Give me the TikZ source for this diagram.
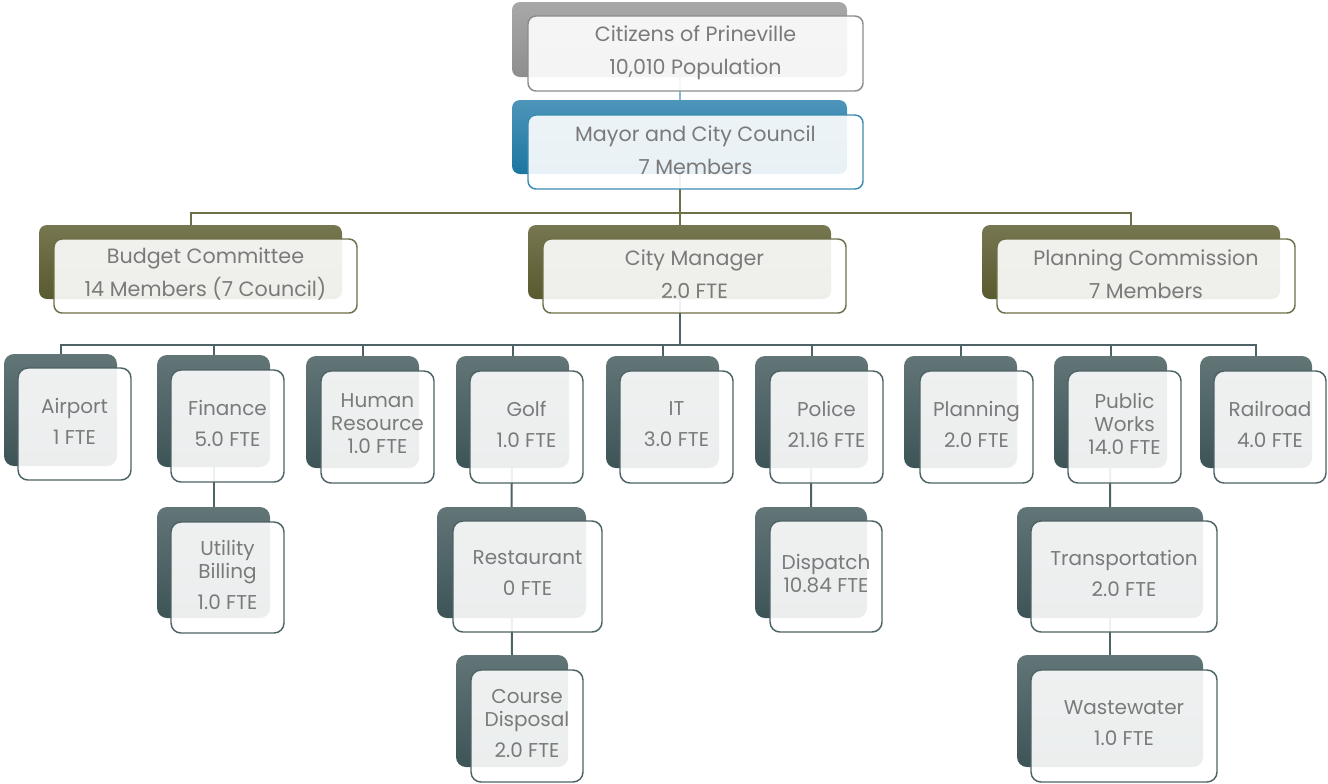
\documentclass[tikz,border=0pt]{standalone}
\usepackage{fontspec}
\newfontfamily\orgfont{Poppins}
\usetikzlibrary{backgrounds}
\definecolor{txtgray}{HTML}{7A7A7A}
\definecolor{citA}{HTML}{A8A8A8}
\definecolor{citB}{HTML}{8E8E8E}
\definecolor{citE}{HTML}{8C8C8C}
\definecolor{mayA}{HTML}{4E95BA}
\definecolor{mayB}{HTML}{1A76A0}
\definecolor{mayE}{HTML}{3A8CB2}
\definecolor{olA}{HTML}{767650}
\definecolor{olB}{HTML}{5A5A30}
\definecolor{olE}{HTML}{6E6E48}
\definecolor{slA}{HTML}{627577}
\definecolor{slB}{HTML}{3D5457}
\definecolor{slE}{HTML}{4E6366}
\definecolor{lnblue}{HTML}{8DB9D0}
\tikzset{
  backbox/.style={anchor=north west,inner sep=0pt,outer sep=0pt},
  frontbox/.style={anchor=north west,inner sep=0pt,outer sep=0pt,fill=white,fill opacity=0.9,line width=1.1pt},
  boxtext/.style={align=center,text=txtgray,inner sep=0pt,font=\orgfont\fontsize{15.5}{24.75}\selectfont},
  cit-back/.style={rounded corners=6pt,top color=citA,bottom color=citB},
  cit-front/.style={rounded corners=6pt,draw=citE},
  cit-text/.style={yshift=-2*0.75pt},
  may-back/.style={rounded corners=6pt,top color=mayA,bottom color=mayB},
  may-front/.style={rounded corners=6pt,draw=mayE},
  may-text/.style={yshift=-1*0.75pt},
  l2-back/.style={rounded corners=6pt,top color=olA,bottom color=olB},
  l2-front/.style={rounded corners=6pt,draw=olE},
  l2-text/.style={yshift=-1.5*0.75pt},
  l3-back/.style={rounded corners=7.5pt,top color=slA,bottom color=slB},
  l3-front/.style={rounded corners=7.5pt,draw=slE},
  l3-text/.style={font=\orgfont\fontsize{15}{17.25}\selectfont},
  conblue/.style={draw=lnblue,line width=1.5pt},
  conolive/.style={draw=olE,line width=1.5pt},
  conslate/.style={draw=slE,line width=1.5pt},
}
\newcommand\orgbox[9]{%
  \node[backbox,#6-back,minimum width=#4*0.75pt,minimum height=#5*0.75pt] (#1-b) at (#2,#3) {};
  \node[frontbox,#6-front,minimum width=#4*0.75pt,minimum height=#5*0.75pt] (#1) at ([xshift=#7*0.75pt,yshift=-#8*0.75pt]#1-b.north west) {};
  \node[boxtext,#6-text] (#1-t) at ([yshift=3*0.75pt]#1.center) {#9};
}
\begin{document}
\begin{tikzpicture}[x=0.75pt,y=-0.75pt]
\useasboundingbox (0,0) rectangle (1328,783);
% level 1
\orgbox{cit}{512}{2}{335}{75}{cit}{16}{14}{Citizens of Prineville\\10,010 Population}
\orgbox{may}{512}{100}{335}{74}{may}{16}{15}{Mayor and City Council\\7 Members}
% level 2
\orgbox{bud}{39}{225}{303}{74}{l2}{15}{14}{Budget Committee\\14 Members (7 Council)}
\orgbox{cm}{528}{225}{303}{74}{l2}{15}{14}{City Manager\\2.0 FTE}
\orgbox{pc}{982}{225}{298}{74}{l2}{15}{14}{Planning Commission\\7 Members}
% level 3
\orgbox{air}{4}{354}{113}{112}{l3}{14}{14}{Airport\\[6pt]1 FTE}
\orgbox{fin}{157}{355}{113}{112}{l3}{14}{15}{Finance\\[6pt]5.0 FTE}
\orgbox{hr}{306}{356}{113}{112}{l3}{15}{15}{Human\\Resource\\1.0 FTE}
\orgbox{golf}{456}{356}{113}{112}{l3}{14}{15}{Golf\\[6pt]1.0 FTE}
\orgbox{it}{606}{356}{113}{112}{l3}{14}{15}{IT\\[6pt]3.0 FTE}
\orgbox{pol}{755}{356}{113}{112}{l3}{15}{15}{Police\\[6pt]21.16 FTE}
\orgbox{pln}{904}{356}{113}{112}{l3}{16}{15}{Planning\\[6pt]2.0 FTE}
\orgbox{pw}{1054}{356}{113}{112}{l3}{14}{15}{Public\\Works\\14.0 FTE}
\orgbox{rr}{1200}{356}{112}{112}{l3}{14}{15}{Railroad\\[6pt]4.0 FTE}
% level 4
\orgbox{ub}{157}{507}{113}{111}{l3}{14}{15}{Utility\\Billing\\[6pt]1.0 FTE}
\orgbox{rest}{437}{507}{149}{111}{l3}{16}{14}{Restaurant\\[6pt]0 FTE}
\orgbox{cd}{456}{655}{112}{112}{l3}{15}{15}{Course\\Disposal\\[6pt]2.0 FTE}
\orgbox{disp}{755}{507}{112}{111}{l3}{15}{14}{Dispatch\\10.84 FTE}
\orgbox{tr}{1017}{507}{186}{111}{l3}{14}{14}{Transportation\\[6pt]2.0 FTE}
\orgbox{ww}{1017}{655}{186}{112}{l3}{14}{15}{Wastewater\\[6pt]1.0 FTE}
% connectors
\coordinate (b2) at (0,213);
\coordinate (b3) at (0,345);
\begin{scope}[on background layer]
\draw[conblue] (cit-b.center) -- (may-b.north);
\draw[conolive] (may-b.center) -- (cm-b.north);
\draw[conolive] (bud-b.north) -- (bud-b.north |- b2) -| (pc-b.north);
\draw[conslate] (cm-b.center) -- (cm-b.center |- b3);
\draw[conslate] (air-b.north) -- (air-b.north |- b3) -| (rr-b.north);
\foreach \n in {fin,hr,golf,it,pol,pln,pw}
  \draw[conslate] (\n-b.north) -- (\n-b.north |- b3);
\draw[conslate] (fin-b.center) -- (ub-b.north);
\draw[conslate] (golf-b.center) -- (rest-b.north);
\draw[conslate] (rest-b.center) -- (cd-b.north);
\draw[conslate] (pol-b.center) -- (disp-b.north);
\draw[conslate] (pw-b.center) -- (tr-b.north);
\draw[conslate] (tr-b.center) -- (ww-b.north);
\end{scope}
\end{tikzpicture}
\end{document}
